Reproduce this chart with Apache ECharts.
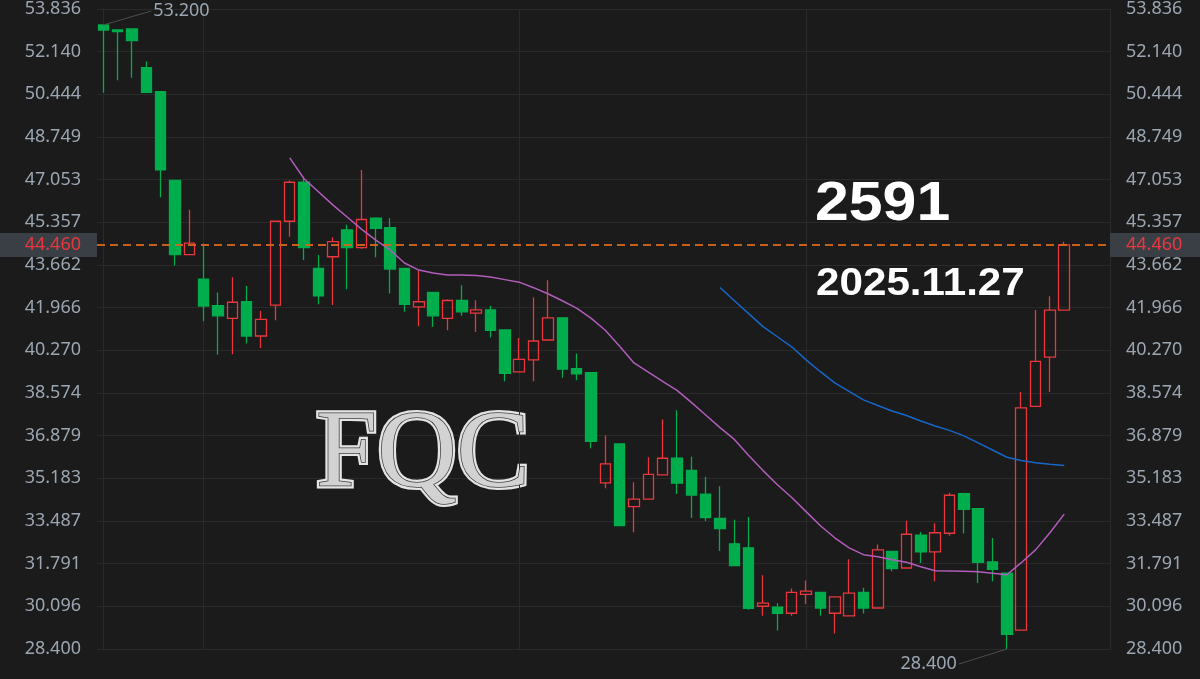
<!DOCTYPE html>
<html>
<head>
<meta charset="utf-8">
<title>2591</title>
<script src="https://cdn.jsdelivr.net/npm/echarts@6/dist/echarts.min.js"></script>
<style>
  html, body { margin: 0; padding: 0; background: #1b1b1b; }
  #chart { width: 1200px; height: 679px; }
</style>
</head>
<body>
<div id="chart"></div>
<script>
// daily candles, 2025.08.21 -> 2025.11.27
var dates = [
  '2025-08-21', '2025-08-22', '2025-08-25', '2025-08-26', '2025-08-27', '2025-08-28', '2025-08-29',
  '2025-09-01', '2025-09-02', '2025-09-03', '2025-09-04', '2025-09-05', '2025-09-08', '2025-09-09',
  '2025-09-10', '2025-09-11', '2025-09-12', '2025-09-15', '2025-09-16', '2025-09-17', '2025-09-18',
  '2025-09-19', '2025-09-22', '2025-09-23', '2025-09-24', '2025-09-25', '2025-09-26', '2025-09-29',
  '2025-09-30',
  '2025-10-01', '2025-10-02', '2025-10-03', '2025-10-07', '2025-10-08', '2025-10-09', '2025-10-13',
  '2025-10-14', '2025-10-15', '2025-10-16', '2025-10-17', '2025-10-20', '2025-10-21', '2025-10-22',
  '2025-10-23', '2025-10-27', '2025-10-28', '2025-10-29', '2025-10-30', '2025-10-31',
  '2025-11-03', '2025-11-04', '2025-11-05', '2025-11-06', '2025-11-07', '2025-11-10', '2025-11-11',
  '2025-11-12', '2025-11-13', '2025-11-14', '2025-11-17', '2025-11-18', '2025-11-19', '2025-11-20',
  '2025-11-21', '2025-11-24', '2025-11-25', '2025-11-26', '2025-11-27'
];
var opens = [
  53.20, 53.00, 53.04, 51.50, 50.55, 47.02, 44.07, 43.10, 42.05, 41.54,
  42.20, 40.84, 42.07, 45.40, 46.95, 43.53, 43.99, 45.06, 44.35, 45.52,
  45.15, 43.53, 42.00, 42.57, 41.54, 42.25, 41.75, 41.88, 41.08, 39.41,
  39.89, 40.68, 41.56, 39.54, 39.38, 35.00, 36.55, 34.06, 34.36, 35.32,
  35.98, 35.50, 34.55, 33.59, 32.58, 32.42, 30.10, 30.06, 29.82, 30.57,
  30.65, 29.82, 29.72, 30.65, 30.03, 32.28, 31.62, 32.92, 32.26, 33.00,
  34.57, 33.98, 31.86, 31.41, 29.15, 38.04, 40.00, 41.87
];
var closes = [
  53.00, 52.94, 52.58, 50.52, 47.44, 44.07, 44.53, 42.03, 41.64, 42.18,
  40.84, 41.50, 45.40, 46.95, 44.35, 42.44, 44.59, 44.35, 45.47, 45.12,
  43.50, 42.10, 42.20, 41.64, 42.25, 41.80, 41.88, 41.06, 39.36, 39.91,
  40.64, 41.56, 39.52, 39.34, 36.65, 35.76, 33.30, 34.36, 35.34, 35.98,
  34.99, 34.52, 33.62, 33.19, 31.71, 30.02, 30.22, 29.82, 30.65, 30.70,
  30.03, 30.47, 30.62, 30.03, 32.34, 31.60, 32.96, 32.26, 33.02, 34.51,
  33.95, 31.84, 31.57, 28.98, 37.98, 39.83, 41.87, 44.46
];
var lows = [
  50.51, 51.00, 51.10, 50.52, 46.35, 43.64, 44.07, 41.43, 40.10, 40.11,
  40.54, 40.36, 41.47, 44.78, 43.86, 42.10, 42.07, 42.70, 44.30, 43.97,
  42.53, 41.80, 41.23, 41.20, 41.07, 41.64, 41.00, 40.78, 39.04, 39.41,
  39.04, 40.68, 39.18, 39.08, 36.38, 34.79, 33.30, 33.04, 34.36, 35.32,
  34.56, 33.61, 33.49, 32.29, 31.71, 29.96, 29.72, 29.14, 29.72, 30.19,
  29.72, 29.02, 29.72, 29.81, 30.03, 31.49, 31.62, 31.82, 31.09, 32.90,
  32.99, 31.02, 31.09, 28.40, 29.15, 38.04, 38.61, 41.87
];
var highs = [
  53.20, 53.00, 53.04, 51.75, 50.55, 47.02, 45.86, 44.52, 42.57, 43.17,
  42.83, 41.83, 45.40, 47.02, 47.08, 44.06, 44.76, 45.27, 47.44, 45.52,
  45.52, 43.53, 43.44, 42.57, 42.30, 42.86, 42.26, 42.04, 41.08, 40.76,
  42.37, 43.06, 41.56, 40.14, 39.38, 36.89, 36.55, 35.03, 36.02, 37.52,
  37.89, 36.04, 35.25, 34.87, 33.54, 33.65, 31.33, 30.22, 30.80, 31.12,
  30.65, 30.47, 31.97, 30.83, 32.55, 32.28, 33.50, 33.05, 33.40, 34.61,
  34.61, 33.98, 32.81, 31.41, 38.61, 41.87, 42.42, 44.59
];

// moving averages as drawn (first visible candle index + values)
var maShortStart = 13;
var maShort = [
  47.92, 47.09, 46.57, 46.05, 45.57, 45.09, 44.65, 44.26, 43.74, 43.46,
  43.34, 43.26, 43.26, 43.24, 43.18, 43.08, 42.98, 42.76, 42.52, 42.24,
  41.95, 41.55, 41.07, 40.43, 39.77, 39.40, 39.04, 38.68, 38.20, 37.70,
  37.20, 36.73, 36.09, 35.49, 34.93, 34.42, 33.86, 33.30, 32.82, 32.42,
  32.15, 32.07, 31.95, 31.85, 31.67, 31.51, 31.50, 31.49, 31.47, 31.41,
  31.35, 31.83, 32.34, 33.02, 33.76
];
var maLongStart = 43;
var maLong = [
  42.77, 42.24, 41.73, 41.21, 40.81, 40.41, 39.89, 39.42, 38.98, 38.64,
  38.30, 38.08, 37.86, 37.68, 37.46, 37.26, 37.09, 36.87, 36.59, 36.31,
  36.02, 35.89, 35.80, 35.74, 35.69
];

var yTicks = ['28.400', '30.096', '31.791', '33.487', '35.183', '36.879', '38.574', '40.270',
  '41.966', '43.662', '45.357', '47.053', '48.749', '50.444', '52.140', '53.836'];
var yMin = 28.4;
var yStep = 1.6957;
var yMax = +(yMin + (yTicks.length - 1) * yStep).toFixed(4);

var stockCode = '2591';
var stockDate = '2025.11.27';
var logoText = 'FQC';

// colours
var bg = '#1b1b1b';
var gridColor = '#2a2a2a';
var upColor = '#e8383d';
var downColor = '#00ad4c';
var labelColor = '#9ba6b2';

var candles = dates.map(function (d, i) {
  return [i, opens[i], closes[i], lows[i], highs[i]];
});
var lastClose = closes[closes.length - 1];

// first trading day of each month -> vertical separators
var monthStarts = [];
for (var i = 1; i < dates.length; i++) {
  if (dates[i].slice(5, 7) !== dates[i - 1].slice(5, 7)) monthStarts.push({ xAxis: i });
}

// highest high / lowest low for the two callouts
var hiIdx = 0, loIdx = 0;
for (var k = 0; k < highs.length; k++) {
  if (highs[k] > highs[hiIdx]) hiIdx = k;
  if (lows[k] < lows[loIdx]) loIdx = k;
}

function tickLabel(v) {
  var n = Math.round((v - yMin) / yStep);
  return yTicks[n] || '';
}

var axisLabelStyle = {
  color: labelColor,
  fontSize: 18,
  fontFamily: 'Noto Sans',
  margin: 16,
  formatter: tickLabel
};

var chart = echarts.init(document.getElementById('chart'));

var option = {
  backgroundColor: bg,
  animation: false,
  grid: { left: 97, right: 90, top: 8, bottom: 30 },
  xAxis: {
    type: 'value',
    min: -0.439,
    max: 70.19,
    show: false
  },
  yAxis: [{
    type: 'value',
    position: 'left',
    min: yMin,
    max: yMax,
    interval: yStep,
    axisLine: { show: true, lineStyle: { color: gridColor } },
    axisTick: { show: false },
    axisLabel: axisLabelStyle,
    splitLine: { lineStyle: { color: gridColor, width: 1 } }
  }, {
    type: 'value',
    position: 'right',
    min: yMin,
    max: yMax,
    interval: yStep,
    axisLine: { show: true, lineStyle: { color: gridColor } },
    axisTick: { show: false },
    axisLabel: axisLabelStyle,
    splitLine: { show: false }
  }],
  series: [{
    type: 'candlestick',
    data: candles,
    encode: { x: 0, y: [1, 2, 3, 4] },
    barWidth: 11,
    z: 3,
    itemStyle: {
      color: 'transparent',
      color0: downColor,
      borderColor: upColor,
      borderColor0: downColor,
      borderWidth: 1.3
    },
    markLine: {
      silent: true,
      symbol: ['none', 'none'],
      z: 6,
      lineStyle: { color: '#d4661e', type: [8, 5], width: 1.5 },
      data: [{
        yAxis: lastClose,
        label: {
          show: true, position: 'start', distance: 0,
          formatter: lastClose.toFixed(3),
          color: upColor, fontSize: 18, fontFamily: 'Noto Sans', lineHeight: 18,
          backgroundColor: '#3a3f46', align: 'right', width: 81,
          padding: [3, 16, 3, 0]
        }
      }, {
        yAxis: lastClose,
        label: {
          show: true, position: 'end', distance: 0,
          formatter: lastClose.toFixed(3),
          color: upColor, fontSize: 18, fontFamily: 'Noto Sans', lineHeight: 18,
          backgroundColor: '#3a3f46', align: 'left', width: 74,
          padding: [3, 0, 3, 16]
        }
      }]
    }
  }, {
    name: 'MA short',
    type: 'line',
    data: maShort.map(function (v, j) { return [maShortStart + j, v]; }),
    showSymbol: false,
    z: 4,
    lineStyle: { color: '#b25cbc', width: 1.5 },
    markLine: {
      silent: true,
      symbol: ['none', 'none'],
      z: 1,
      label: { show: false },
      lineStyle: { color: gridColor, type: 'solid', width: 1 },
      data: monthStarts
    }
  }, {
    name: 'MA long',
    type: 'line',
    data: maLong.map(function (v, j) { return [maLongStart + j, v]; }),
    showSymbol: false,
    z: 4,
    lineStyle: { color: '#1766c9', width: 1.5 }
  }, {
    // high / low callouts
    type: 'custom',
    clip: false,
    z: 7,
    encode: { x: 0, y: 1 },
    data: [[hiIdx, highs[hiIdx], 1], [loIdx, lows[loIdx], -1]],
    renderItem: function (params, api) {
      var p = api.coord([api.value(0), api.value(1)]);
      var up = api.value(2) > 0;
      var end = up ? [p[0] + 48, p[1] - 14] : [p[0] - 48, p[1] + 15];
      return {
        type: 'group',
        children: [{
          type: 'line',
          shape: { x1: p[0], y1: p[1], x2: end[0], y2: end[1] },
          style: { stroke: '#4d4d4d', lineWidth: 1 }
        }, {
          type: 'text',
          x: end[0] + (up ? 2 : -2),
          y: end[1],
          style: {
            text: api.value(1).toFixed(3),
            fill: labelColor,
            font: '18px "Noto Sans"',
            align: up ? 'left' : 'right',
            verticalAlign: 'middle'
          }
        }]
      };
    }
  }],
  graphic: [{
    // logo: light rim, then dark edge + silver face
    type: 'text', x: 316, y: 457, z: 1,
    style: {
      text: logoText, font: '110px "Liberation Serif"',
      align: 'left', verticalAlign: 'middle',
      fill: '#e4e4e4', stroke: '#e4e4e4', lineWidth: 6
    }
  }, {
    type: 'text', x: 316, y: 457, z: 2,
    style: {
      text: logoText, font: '110px "Liberation Serif"',
      align: 'left', verticalAlign: 'middle',
      fill: '#d2d2d2',
      stroke: '#3c3c3c', lineWidth: 1.5
    }
  }, {
    type: 'text', x: 815, y: 205, z: 10, scaleX: 1.085,
    style: {
      text: stockCode, font: 'bold 56px "Liberation Sans"',
      align: 'left', verticalAlign: 'middle', fill: '#ffffff',
      shadowColor: 'rgba(0,0,0,0.8)', shadowBlur: 3, shadowOffsetX: 1, shadowOffsetY: 1
    }
  }, {
    type: 'text', x: 816, y: 285, z: 10, scaleX: 1.11,
    style: {
      text: stockDate, font: 'bold 38px "Liberation Sans"',
      align: 'left', verticalAlign: 'middle', fill: '#ffffff',
      shadowColor: 'rgba(0,0,0,0.8)', shadowBlur: 3, shadowOffsetX: 1, shadowOffsetY: 1
    }
  }]
};

chart.setOption(option);

window.addEventListener('resize', function () {
  setTimeout(function () { chart.resize(); }, 200);
});
</script>
</body>
</html>
